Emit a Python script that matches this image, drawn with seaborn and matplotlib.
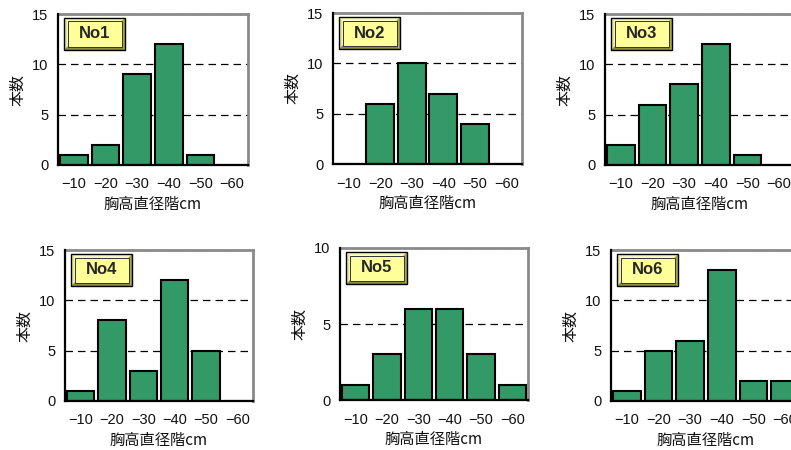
import matplotlib
matplotlib.use("Agg")
import matplotlib.pyplot as plt
import pandas as pd
import seaborn as sns
from matplotlib.patches import Polygon, Rectangle

# ---- data ----
classes = ["−10", "−20", "−30", "−40", "−50", "−60"]
no1 = [1, 2, 9, 12, 1, 0]
no2 = [0, 6, 10, 7, 4, 0]
no3 = [2, 6, 8, 12, 1, 0]
no4 = [1, 8, 3, 12, 5, 0]
no5 = [1, 3, 6, 6, 3, 1]
no6 = [1, 5, 6, 13, 2, 2]
panel_names = ["No1", "No2", "No3", "No4", "No5", "No6"]
panel_values = [no1, no2, no3, no4, no5, no6]
panel_ymax = [15, 15, 15, 15, 10, 15]
xlabel_text = "胸高直径階cm"
ylabel_text = "本数"

sns.set_style("white")
plt.rcParams["font.family"] = ["Liberation Sans", "Noto Sans CJK JP", "DejaVu Sans"]
plt.rcParams["axes.unicode_minus"] = True

W, H = 791, 450
fig = plt.figure(figsize=(W / 100, H / 100), dpi=100)

# axes boxes in pixels: left, top, right, bottom
boxes = [(58, 14, 248, 165), (333, 13, 522, 164), (605, 14, 795, 165),
         (65, 250, 253, 401), (340, 248, 528, 400), (611, 250, 801, 401)]


def label_box(ax, text, wpx, hpx):
    x0, y0 = 6 / wpx, 1 - 36 / hpx
    bw, bh = 61 / wpx, 32 / hpx
    ix, iy = 3.5 / wpx, 3.5 / hpx
    TL, TR = (x0, y0 + bh), (x0 + bw, y0 + bh)
    BL, BR = (x0, y0), (x0 + bw, y0)
    iTL, iTR = (x0 + ix, y0 + bh - iy), (x0 + bw - ix, y0 + bh - iy)
    iBL, iBR = (x0 + ix, y0 + iy), (x0 + bw - ix, y0 + iy)
    kw = dict(transform=ax.transAxes, clip_on=False, zorder=6, lw=0)
    ax.add_patch(Polygon([TL, TR, iTR, iTL], closed=True, fc="#f7f7c0", **kw))
    ax.add_patch(Polygon([TL, BL, iBL, iTL], closed=True, fc="#e6e68c", **kw))
    ax.add_patch(Polygon([BL, BR, iBR, iBL], closed=True, fc="#8c8c3a", **kw))
    ax.add_patch(Polygon([TR, BR, iBR, iTR], closed=True, fc="#a6a64a", **kw))
    ax.add_patch(Rectangle(iBL, bw - 2 * ix, bh - 2 * iy, transform=ax.transAxes,
                           clip_on=False, zorder=7, fc="#ffff99", ec="#333333", lw=0.7))
    ax.add_patch(Rectangle(BL, bw, bh, transform=ax.transAxes, clip_on=False,
                           zorder=8, fc="none", ec="black", lw=1.0))
    ax.text(x0 + bw / 2, y0 + bh / 2, text, transform=ax.transAxes, ha="center",
            va="center", fontsize=12, fontweight="bold", zorder=9,
            family=["Liberation Sans"])


for name, vals, ym, (l, t, r, b) in zip(panel_names, panel_values, panel_ymax, boxes):
    wpx, hpx = r - l, b - t
    ax = fig.add_axes([l / W, 1 - b / H, wpx / W, hpx / H])
    df = pd.DataFrame({"class": classes, "count": vals})
    sns.barplot(data=df, x="class", y="count", ax=ax, color="#339966", saturation=1,
                width=0.88, edgecolor="black", linewidth=1.5, zorder=3)
    ax.set_ylim(0, ym)
    ax.set_xlim(-0.5, len(classes) - 0.5)
    ax.set_yticks(list(range(0, ym + 1, 5)))
    ax.set_axisbelow(True)
    ax.yaxis.grid(True, color="black", lw=0.9, linestyle=(0, (6, 4)))
    ax.xaxis.grid(False)
    ax.tick_params(axis="both", length=0, labelsize=10.5, labelcolor="#111111")
    ax.tick_params(axis="y", pad=7)
    ax.tick_params(axis="x", pad=9)
    for s in ("top", "right"):
        ax.spines[s].set_color("#8a8a8a")
        ax.spines[s].set_linewidth(2)
    for s in ("left", "bottom"):
        ax.spines[s].set_color("black")
        ax.spines[s].set_linewidth(1.6)
        ax.spines[s].set_zorder(4)
    ax.set_ylabel(ylabel_text, fontsize=11.5, family=["Noto Sans CJK JP"],
                  color="#111111")
    ax.yaxis.set_label_coords(-32 / wpx, 0.5)
    ax.set_xlabel(xlabel_text, fontsize=11, family=["Noto Sans CJK JP"],
                  color="#111111")
    ax.xaxis.set_label_coords(0.5, -31 / hpx)
    label_box(ax, name, wpx, hpx)

fig.savefig("out.png", dpi=100)
